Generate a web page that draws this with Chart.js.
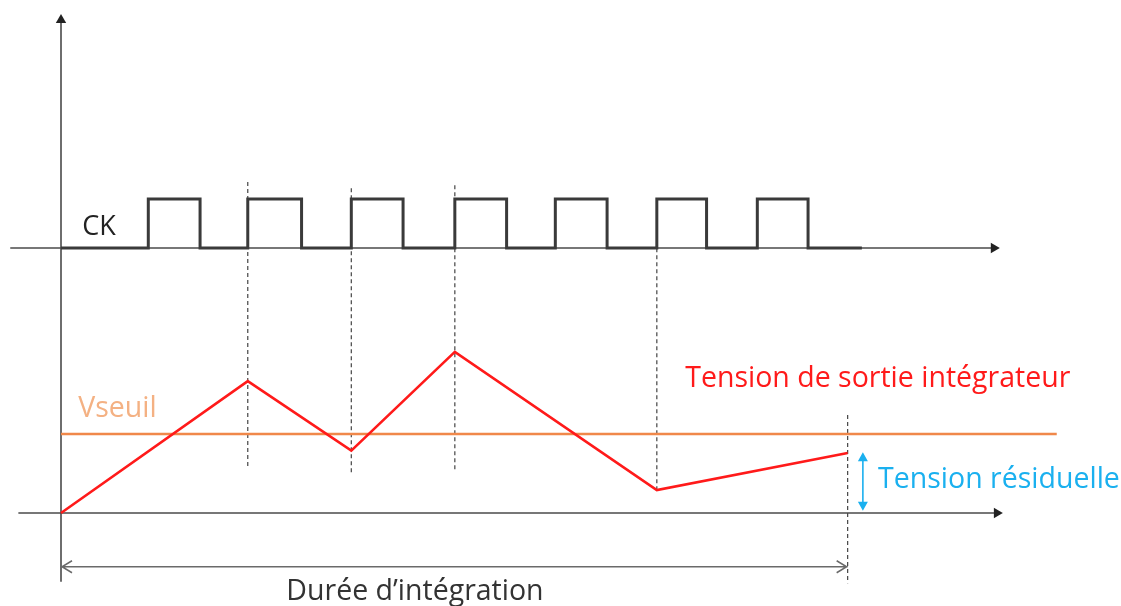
<!DOCTYPE html>
<html lang="fr">
<head>
<meta charset="utf-8">
<title>Intégrateur - tension résiduelle</title>
<script src="https://cdn.jsdelivr.net/npm/chart.js@4.4.1/dist/chart.umd.min.js"></script>
<style>
  html, body { margin: 0; padding: 0; background: #fff; }
  #cadre { width: 1121px; height: 606px; }
</style>
</head>
<body>
<div id="cadre"><canvas id="chrono"></canvas></div>
<script>
// Temps exprimés en périodes d'horloge, tensions en unités de Vseuil

// Horloge CK
var fronts_montants = [0.86, 1.84, 2.86, 3.88, 4.87, 5.87, 6.86];
var fronts_descendants = [1.37, 2.37, 3.37, 4.39, 5.38, 6.36, 7.36];
var fin_horloge = 7.89;

// Sortie de l'intégrateur
var t_integ = [0, 1.84, 2.86, 3.88, 5.87, 7.75];
var v_integ = [0, 1.67, 0.79, 2.04, 0.29, 0.76];

// Seuil
var vseuil = 1;
var fin_seuil = 9.81;

// Repères verticaux en pointillés
var reperes = [1.84, 2.86, 3.88, 5.87, 7.75];
var repere_haut = [4.19, 4.11, 4.15, 3.35, 1.24];
var repere_bas = [0.58, 0.51, 0.54, 0.29, -0.89];

// Axes
var axe_t = [-0.42, 9.22];
var axe_ck = [-0.50, 9.19];
var axe_v = [-0.87, 6.24];

// Durée d'intégration et tension résiduelle
var duree_integration = [0, 7.75];
var niveau_duree = -0.68;
var t_residuelle = 7.90;
var v_residuelle = [0.03, 0.77];

// Construction du signal d'horloge (créneaux)
var horloge = [{ x: 0, y: 0 }];
for (var i = 0; i < fronts_montants.length; i++) {
  horloge.push({ x: fronts_montants[i], y: 0 });
  horloge.push({ x: fronts_montants[i], y: 1 });
  horloge.push({ x: fronts_descendants[i], y: 1 });
  horloge.push({ x: fronts_descendants[i], y: 0 });
}
horloge.push({ x: fin_horloge, y: 0 });

var integ = t_integ.map(function (t, i) { return { x: t, y: v_integ[i] }; });

var noir = "#3a3a3a";

var datasets = [
  {
    label: "Tension de sortie intégrateur",
    data: integ,
    borderColor: "#ff1a1a",
    borderWidth: 2.6,
    pointRadius: 0,
    yAxisID: "y"
  },
  {
    label: "Vseuil",
    data: [{ x: 0, y: vseuil }, { x: fin_seuil, y: vseuil }],
    borderColor: "#f0884a",
    borderWidth: 2.4,
    pointRadius: 0,
    yAxisID: "y"
  },
  {
    label: "CK",
    data: horloge,
    borderColor: noir,
    borderWidth: 3,
    pointRadius: 0,
    yAxisID: "yCK"
  },
  {
    label: "axe t",
    data: [{ x: axe_t[0], y: 0 }, { x: axe_t[1], y: 0 }],
    borderColor: "#4a4a4a",
    backgroundColor: "#222",
    borderWidth: 1.6,
    pointStyle: "triangle",
    pointRadius: [0, 6],
    pointRotation: 90,
    pointBorderWidth: 0,
    yAxisID: "y"
  },
  {
    label: "axe CK",
    data: [{ x: axe_ck[0], y: 0 }, { x: axe_ck[1], y: 0 }],
    borderColor: "#4a4a4a",
    backgroundColor: "#222",
    borderWidth: 1.6,
    pointStyle: "triangle",
    pointRadius: [0, 6],
    pointRotation: 90,
    pointBorderWidth: 0,
    yAxisID: "yCK"
  },
  {
    label: "axe V",
    data: [{ x: 0, y: axe_v[0] }, { x: 0, y: axe_v[1] }],
    borderColor: "#4a4a4a",
    backgroundColor: "#222",
    borderWidth: 1.6,
    pointStyle: "triangle",
    pointRadius: [0, 6],
    pointRotation: 0,
    pointBorderWidth: 0,
    yAxisID: "y"
  }
];

reperes.forEach(function (t, i) {
  datasets.push({
    label: "repère " + (i + 1),
    data: [{ x: t, y: repere_haut[i] }, { x: t, y: repere_bas[i] }],
    borderColor: "#444",
    borderWidth: 1.2,
    borderDash: [4, 3],
    pointRadius: 0,
    yAxisID: "y"
  });
});

// Flèches et textes posés sur les échelles du graphique
var annotations = {
  id: "annotations",
  afterDatasetsDraw: function (chart) {
    var ctx = chart.ctx;
    var sx = chart.scales.x, sy = chart.scales.y, sck = chart.scales.yCK;
    ctx.save();

    // double flèche de la durée d'intégration
    var yd = sy.getPixelForValue(niveau_duree);
    var xa = sx.getPixelForValue(duree_integration[0]);
    var xb = sx.getPixelForValue(duree_integration[1]);
    ctx.strokeStyle = "#6a6a6a";
    ctx.lineWidth = 1.5;
    ctx.beginPath();
    ctx.moveTo(xa, yd); ctx.lineTo(xb, yd);
    ctx.moveTo(xa + 11, yd - 6); ctx.lineTo(xa + 1, yd); ctx.lineTo(xa + 11, yd + 6);
    ctx.moveTo(xb - 11, yd - 6); ctx.lineTo(xb - 1, yd); ctx.lineTo(xb - 11, yd + 6);
    ctx.stroke();

    // double flèche de la tension résiduelle
    var xr = sx.getPixelForValue(t_residuelle);
    var y0 = sy.getPixelForValue(v_residuelle[0]);
    var y1 = sy.getPixelForValue(v_residuelle[1]);
    ctx.strokeStyle = "#1ab0ef";
    ctx.fillStyle = "#1ab0ef";
    ctx.lineWidth = 1.6;
    ctx.beginPath();
    ctx.moveTo(xr, y0 - 6); ctx.lineTo(xr, y1 + 6);
    ctx.stroke();
    ctx.beginPath();
    ctx.moveTo(xr, y1); ctx.lineTo(xr - 5, y1 + 9); ctx.lineTo(xr + 5, y1 + 9); ctx.closePath();
    ctx.moveTo(xr, y0); ctx.lineTo(xr - 5, y0 - 9); ctx.lineTo(xr + 5, y0 - 9); ctx.closePath();
    ctx.fill();

    // textes
    ctx.textAlign = "left";
    ctx.textBaseline = "alphabetic";
    ctx.font = "27px 'Open Sans'";
    ctx.fillStyle = "#222";
    ctx.fillText("CK", sx.getPixelForValue(0.21), sck.getPixelForValue(0.27));

    ctx.font = "28.5px 'Open Sans'";
    ctx.fillStyle = "#f4b183";
    ctx.fillText("Vseuil", sx.getPixelForValue(0.17), sy.getPixelForValue(1.22));

    ctx.fillStyle = "#ff1a1a";
    ctx.fillText("Tension de sortie intégrateur", sx.getPixelForValue(6.15), sy.getPixelForValue(1.59));

    ctx.fillStyle = "#1ab0ef";
    ctx.fillText("Tension résiduelle", sx.getPixelForValue(8.05), sy.getPixelForValue(0.32));

    ctx.fillStyle = "#333";
    ctx.fillText("Durée d\u2019intégration", sx.getPixelForValue(2.22), sy.getPixelForValue(-1.10));

    ctx.restore();
  }
};

var chart = new Chart(document.getElementById("chrono"), {
  type: "line",
  data: { datasets: datasets },
  options: {
    responsive: true,
    maintainAspectRatio: false,
    animation: false,
    layout: { padding: 0, autoPadding: false },
    plugins: { legend: { display: false }, tooltip: { enabled: false } },
    elements: { line: { tension: 0, fill: false } },
    scales: {
      x: { type: "linear", min: -0.601, max: 10.443, display: false },
      y: { type: "linear", min: -1.177, max: 6.494, display: false },
      yCK: { type: "linear", min: -7.306, max: 5.061, display: false }
    }
  },
  plugins: [annotations]
});
</script>
</body>
</html>
